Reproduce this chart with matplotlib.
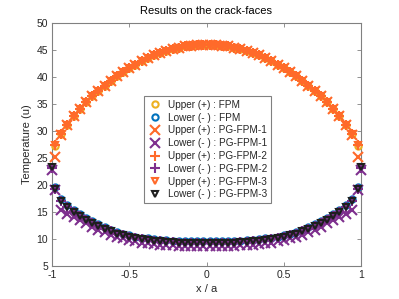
import numpy as np
import matplotlib
matplotlib.use("Agg")
import matplotlib.pyplot as plt

plt.rcParams['font.family'] = ['Liberation Sans', 'DejaVu Sans']

# x positions (x / a)
x_in = np.linspace(-0.98, 0.98, 50)
x_tip = np.concatenate([[-1.0], x_in, [1.0]])

upper_fpm = [27.2, 29.5, 31.2, 32.7, 34.0, 35.3, 36.4, 37.5, 38.4, 39.3, 40.1, 40.9, 41.6,
             42.3, 42.9, 43.5, 44.0, 44.45, 44.85, 45.2, 45.45, 45.65, 45.8, 45.9, 45.95,
             45.95, 45.9, 45.8, 45.65, 45.45, 45.2, 44.85, 44.45, 44.0, 43.5, 42.9, 42.3,
             41.6, 40.9, 40.1, 39.3, 38.4, 37.5, 36.4, 35.3, 34.0, 32.7, 31.2, 29.5, 27.2]
lower_fpm = [19.6, 17.5, 16.3, 15.4, 14.6, 13.9, 13.3, 12.7, 12.2, 11.75, 11.35, 11.0, 10.7,
             10.45, 10.25, 10.1, 9.95, 9.85, 9.75, 9.7, 9.65, 9.6, 9.58, 9.56, 9.55,
             9.55, 9.56, 9.58, 9.6, 9.65, 9.7, 9.75, 9.85, 9.95, 10.1, 10.25, 10.45,
             10.7, 11.0, 11.35, 11.75, 12.2, 12.7, 13.3, 13.9, 14.6, 15.4, 16.3, 17.5, 19.6]
upper_pg1 = [25.2, 29.3, 31.1, 32.7, 34.0, 35.3, 36.4, 37.5, 38.4, 39.3, 40.1, 40.9, 41.6,
             42.3, 42.9, 43.5, 44.0, 44.45, 44.85, 45.2, 45.45, 45.65, 45.8, 45.9, 45.95,
             45.95, 45.9, 45.8, 45.65, 45.45, 45.2, 44.85, 44.45, 44.0, 43.5, 42.9, 42.3,
             41.6, 40.9, 40.1, 39.3, 38.4, 37.5, 36.4, 35.3, 34.0, 32.7, 31.1, 29.3, 25.2]
lower_pg1 = [22.8, 19.0, 15.3, 14.7, 14.1, 13.5, 12.9, 12.3, 11.75, 11.25, 10.8, 10.4, 10.1,
             9.8, 9.55, 9.35, 9.2, 9.05, 8.95, 8.85, 8.8, 8.75, 8.7, 8.68, 8.66, 8.65,
             8.65, 8.66, 8.68, 8.7, 8.75, 8.8, 8.85, 8.95, 9.05, 9.2, 9.35, 9.55, 9.8,
             10.1, 10.4, 10.8, 11.25, 11.75, 12.3, 12.9, 13.5, 14.1, 14.7, 15.3, 19.0, 22.8]
upper_pg2 = [27.5, 29.5, 31.2, 32.7, 34.0, 35.3, 36.4, 37.5, 38.4, 39.3, 40.1, 40.9, 41.6,
             42.3, 42.9, 43.5, 44.0, 44.45, 44.85, 45.2, 45.45, 45.65, 45.8, 45.9, 45.95,
             45.95, 45.9, 45.8, 45.65, 45.45, 45.2, 44.85, 44.45, 44.0, 43.5, 42.9, 42.3,
             41.6, 40.9, 40.1, 39.3, 38.4, 37.5, 36.4, 35.3, 34.0, 32.7, 31.2, 29.5, 27.5]
lower_pg2 = [23.2, 19.3, 17.0, 15.9, 15.0, 14.2, 13.5, 12.9, 12.35, 11.85, 11.4, 11.0, 10.7,
             10.4, 10.15, 9.95, 9.8, 9.65, 9.55, 9.45, 9.4, 9.35, 9.3, 9.28, 9.26, 9.25,
             9.25, 9.26, 9.28, 9.3, 9.35, 9.4, 9.45, 9.55, 9.65, 9.8, 9.95, 10.15, 10.4,
             10.7, 11.0, 11.4, 11.85, 12.35, 12.9, 13.5, 14.2, 15.0, 15.9, 17.0, 19.3, 23.2]
upper_pg3 = [27.4, 29.5, 31.2, 32.7, 34.0, 35.3, 36.4, 37.5, 38.4, 39.3, 40.1, 40.9, 41.6,
             42.3, 42.9, 43.5, 44.0, 44.45, 44.85, 45.2, 45.45, 45.65, 45.8, 45.9, 45.95,
             45.95, 45.9, 45.8, 45.65, 45.45, 45.2, 44.85, 44.45, 44.0, 43.5, 42.9, 42.3,
             41.6, 40.9, 40.1, 39.3, 38.4, 37.5, 36.4, 35.3, 34.0, 32.7, 31.2, 29.5, 27.4]
lower_pg3 = [23.3, 19.2, 17.0, 15.9, 15.0, 14.2, 13.5, 12.9, 12.35, 11.85, 11.4, 11.0, 10.7,
             10.4, 10.15, 9.95, 9.8, 9.65, 9.55, 9.45, 9.4, 9.35, 9.3, 9.28, 9.26, 9.25,
             9.25, 9.26, 9.28, 9.3, 9.35, 9.4, 9.45, 9.55, 9.65, 9.8, 9.95, 10.15, 10.4,
             10.7, 11.0, 11.4, 11.85, 12.35, 12.9, 13.5, 14.2, 15.0, 15.9, 17.0, 19.2, 23.3]

labels = ['Upper (+) : FPM', 'Lower (- ) : FPM',
          'Upper (+) : PG-FPM-1', 'Lower (- ) : PG-FPM-1',
          'Upper (+) : PG-FPM-2', 'Lower (- ) : PG-FPM-2',
          'Upper (+) : PG-FPM-3', 'Lower (- ) : PG-FPM-3']
xticks = [-1, -0.5, 0, 0.5, 1]
xticklabels = ['-1', '-0.5', '0', '0.5', '1']
yticks = list(range(5, 51, 5))

ORANGE = '#FF6A2A'
PURPLE = '#7E2F8E'
YELLOW = '#EDB120'
BLUE = '#0072BD'
DARK = '#1E1E1E'

fig = plt.figure(figsize=(3.99, 2.99), dpi=100)
ax = fig.add_axes([52/399, 33/299, 309/399, 243/299])

mew = 1.5
kw = dict(clip_on=False, linestyle='none')
ax.plot(x_in, upper_fpm, marker='o', ms=4.5, mfc='none', mec=YELLOW, mew=mew, label=labels[0], **kw)
ax.plot(x_in, lower_fpm, marker='o', ms=4.5, mfc='none', mec=BLUE, mew=mew, label=labels[1], **kw)
ax.plot(x_in, upper_pg1, marker='x', ms=6.5, color=ORANGE, mew=mew, label=labels[2], **kw)
ax.plot(x_tip, lower_pg1, marker='x', ms=6.5, color=PURPLE, mew=mew, label=labels[3], **kw)
ax.plot(x_in, upper_pg2, marker='+', ms=7.5, color=ORANGE, mew=mew, label=labels[4], **kw)
ax.plot(x_tip, lower_pg2, marker='+', ms=7.5, color=PURPLE, mew=mew, label=labels[5], **kw)
ax.plot(x_in, upper_pg3, marker='v', ms=5, mfc='none', mec=ORANGE, mew=mew, label=labels[6], **kw)
ax.plot(x_tip, lower_pg3, marker='v', ms=5, mfc='none', mec=DARK, mew=mew, label=labels[7], **kw)

ax.set_xlim(-1, 1)
ax.set_ylim(5, 50)
ax.set_xticks(xticks)
ax.set_xticklabels(xticklabels)
ax.set_yticks(yticks)

axcol = '#262626'
for s in ax.spines.values():
    s.set_color('#808080')
    s.set_linewidth(0.8)
    s.set_zorder(0.5)
ax.tick_params(direction='in', top=True, right=True, length=3, width=0.6,
               colors='#808080', labelcolor=axcol, labelsize=7.5, pad=3)

ax.set_title('Results on the crack-faces', fontsize=8, color='black', pad=6.5)
ax.set_xlabel('x / a', fontsize=8, color=axcol, labelpad=3)
ax.set_ylabel('Temperature (u)', fontsize=8, color=axcol, labelpad=3)

leg = ax.legend(loc='center', bbox_to_anchor=(0.503, 0.479), fontsize=7.2,
                frameon=True, fancybox=False, framealpha=1, edgecolor='#808080',
                labelspacing=0.28, handletextpad=0.6, handlelength=1.4,
                borderpad=0.4, borderaxespad=0)
leg.get_frame().set_linewidth(0.8)
leg.set_zorder(5)
for t in leg.get_texts():
    t.set_color(axcol)

fig.savefig('out.png', dpi=100)
